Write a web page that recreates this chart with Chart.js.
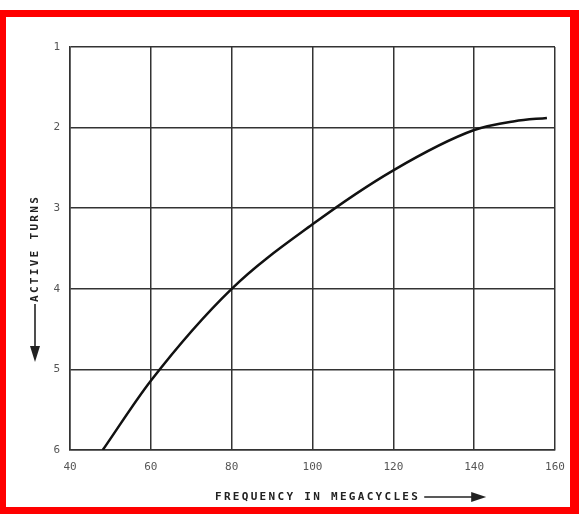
<!DOCTYPE html>
<html>
<head>
<meta charset="utf-8">
<script src="https://cdn.jsdelivr.net/npm/chart.js@4"></script>
<style>
    html, body { margin: 0; padding: 0; background: #fff; }
    #wrap { position: relative; width: 579px; height: 514px; overflow: hidden; }
    #frame {
        position: absolute; left: 0; top: 10px; width: 579px; height: 504px;
        box-sizing: border-box; border: 7px solid #f00; border-left-width: 6px; border-right-width: 9px;
    }
    canvas { position: absolute; left: 0; top: 0; }
</style>
</head>
<body>
<div id="wrap">
    <div id="frame"></div>
    <canvas id="chart" width="579" height="514"></canvas>
</div>
<script>
// frequency (Mc) vs active turns
const freqMc = [48.1, 60, 80, 100, 120, 140, 150, 158];
const activeTurns = [6.0, 5.14, 4.0, 3.2, 2.53, 2.03, 1.92, 1.88];

const xTicks = [40, 60, 80, 100, 120, 140, 160];
const yTicks = [1, 2, 3, 4, 5, 6];

const xTitle = 'FREQUENCY IN MEGACYCLES';
const yTitle = 'ACTIVE TURNS';

const tickFont = { family: 'DejaVu Sans Mono', size: 11 };
const gridColor = '#333';
const titleColor = '#222';

// axis titles are letter-spaced with a drawn arrow, so draw them by hand
const axisTitles = {
    id: 'axisTitles',
    afterDraw(chart) {
        const { ctx, chartArea } = chart;
        ctx.save();
        ctx.font = 'bold 11px "DejaVu Sans Mono"';
        ctx.letterSpacing = '2.3px';
        ctx.fillStyle = titleColor;
        ctx.strokeStyle = titleColor;
        ctx.lineWidth = 1.6;
        ctx.textBaseline = 'middle';
        ctx.textAlign = 'left';

        // x title + arrow pointing right
        const xs = chartArea.left + 145, ys = chartArea.bottom + 47;
        ctx.fillText(xTitle, xs, ys);
        const xe = xs + ctx.measureText(xTitle).width + 4;
        ctx.beginPath();
        ctx.moveTo(xe, ys);
        ctx.lineTo(xe + 50, ys);
        ctx.stroke();
        ctx.beginPath();
        ctx.moveTo(xe + 62, ys);
        ctx.lineTo(xe + 47, ys - 5);
        ctx.lineTo(xe + 47, ys + 5);
        ctx.closePath();
        ctx.fill();

        // y title, rotated, arrow pointing down
        ctx.translate(35, chartArea.top + 255);
        ctx.rotate(-Math.PI / 2);
        ctx.fillText(yTitle, 0, 0);
        ctx.beginPath();
        ctx.moveTo(-2, 0);
        ctx.lineTo(-46, 0);
        ctx.stroke();
        ctx.beginPath();
        ctx.moveTo(-60, 0);
        ctx.lineTo(-44, -5);
        ctx.lineTo(-44, 5);
        ctx.closePath();
        ctx.fill();
        ctx.restore();
    }
};

const ctx = document.getElementById('chart');
new Chart(ctx, {
    type: 'line',
    data: {
        datasets: [{
            data: freqMc.map((f, i) => ({ x: f, y: activeTurns[i] })),
            borderColor: '#111',
            borderWidth: 2.5,
            pointRadius: 0,
            cubicInterpolationMode: 'monotone',
            fill: false
        }]
    },
    options: {
        responsive: false,
        animation: false,
        layout: { padding: { top: 47, right: 24, left: 0, bottom: 0 } },
        plugins: { legend: { display: false }, tooltip: { enabled: false } },
        scales: {
            x: {
                type: 'linear',
                min: 40, max: 160,
                afterBuildTicks: (s) => { s.ticks = xTicks.map(v => ({ value: v })); },
                afterFit: (s) => { s.height = 64; },
                ticks: { color: '#555', font: tickFont, padding: 11, maxRotation: 0 },
                grid: { color: gridColor, lineWidth: 1.5, drawTicks: false },
                border: { color: gridColor, width: 1.5 }
            },
            y: {
                type: 'linear',
                reverse: true,
                min: 1, max: 6,
                afterBuildTicks: (s) => { s.ticks = yTicks.map(v => ({ value: v })); },
                afterFit: (s) => { s.width = 70; },
                ticks: { color: '#555', font: tickFont, padding: 10 },
                grid: { color: gridColor, lineWidth: 1.5, drawTicks: false },
                border: { color: gridColor, width: 1.5 }
            }
        }
    },
    plugins: [axisTitles]
});
</script>
</body>
</html>
